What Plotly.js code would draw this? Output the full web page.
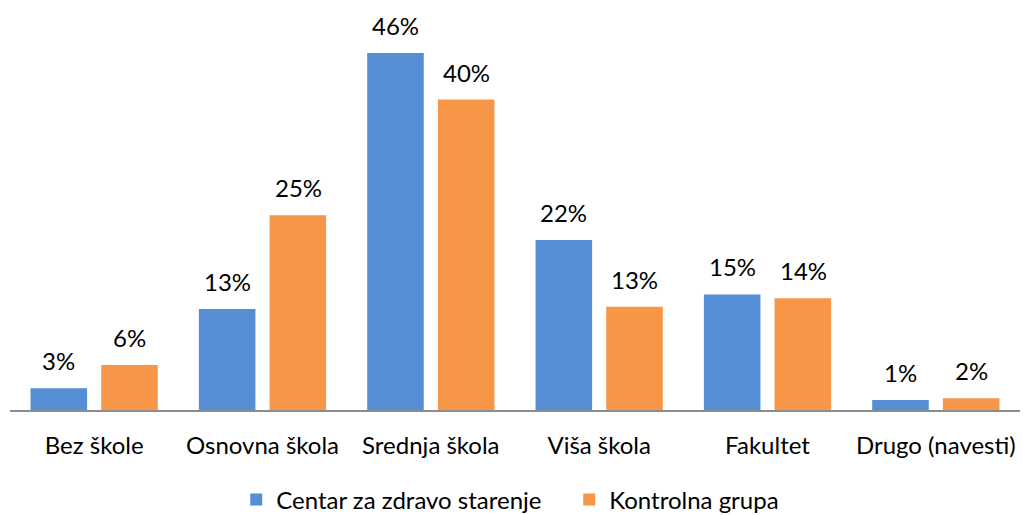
<!DOCTYPE html>
<html>
<head>
<meta charset="utf-8">
<script src="https://cdn.plot.ly/plotly-3.0.1.min.js"></script>
<style>html,body{margin:0;padding:0;background:#fff;}</style>
</head>
<body>
<div id="chart" style="width:1023px;height:515px;"></div>
<script>
var categories = ["Bez škole", "Osnovna škola", "Srednja škola", "Viša škola", "Fakultet", "Drugo (navesti)"];
var seriesNames = ["Centar za zdravo starenje", "Kontrolna grupa"];
var centarValues = [2.8, 13.0, 46.0, 21.9, 14.9, 1.3];
var kontrolnaValues = [5.8, 25.1, 40.0, 13.3, 14.4, 1.5];
var centarLabels = ["3%", "13%", "46%", "22%", "15%", "1%"];
var kontrolnaLabels = ["6%", "25%", "40%", "13%", "14%", "2%"];

var FONT = "Lato, 'Open Sans', sans-serif";
var FS = 24;
var traces = [
  {type: "bar", name: seriesNames[0], x: categories, y: centarValues,
   marker: {color: "#558ED5"}, hoverinfo: "skip"},
  {type: "bar", name: seriesNames[1], x: categories, y: kontrolnaValues,
   marker: {color: "#F79646"}, hoverinfo: "skip"}
];

var annotations = [];
categories.forEach(function(c, i) {
  annotations.push({x: c, y: centarValues[i], text: centarLabels[i], showarrow: false,
    xshift: -35.5, yanchor: "bottom", yshift: 11, font: {family: FONT, size: FS, color: "#000"}});
  annotations.push({x: c, y: kontrolnaValues[i], text: kontrolnaLabels[i], showarrow: false,
    xshift: 35.5, yanchor: "bottom", yshift: 11, font: {family: FONT, size: FS, color: "#000"}});
});

var layout = {
  width: 1023, height: 515,
  margin: {l: 10, r: 3, t: 22, b: 105, autoexpand: false},
  paper_bgcolor: "#fff", plot_bgcolor: "#fff",
  font: {family: FONT, size: FS, color: "#000"},
  barmode: "group", bargap: 0.16, bargroupgap: 0.2,
  xaxis: {type: "category", showline: true, linecolor: "#8c8c8c", linewidth: 1.5,
    ticks: "outside", ticklen: 14, tickcolor: "rgba(0,0,0,0)", showgrid: false,
    tickfont: {family: FONT, size: FS, color: "#000"}},
  yaxis: {range: [0, 50], visible: false, showgrid: false, zeroline: false},
  showlegend: true,
  legend: {orientation: "h", x: 0.224, xanchor: "left", y: -0.232, yanchor: "middle",
    entrywidth: 288, entrywidthmode: "pixels",
    font: {family: FONT, size: FS, color: "#000"}, itemwidth: 30, tracegroupgap: 0},
  annotations: annotations
};

Plotly.newPlot("chart", traces, layout, {displayModeBar: false, staticPlot: true});
</script>
</body>
</html>
